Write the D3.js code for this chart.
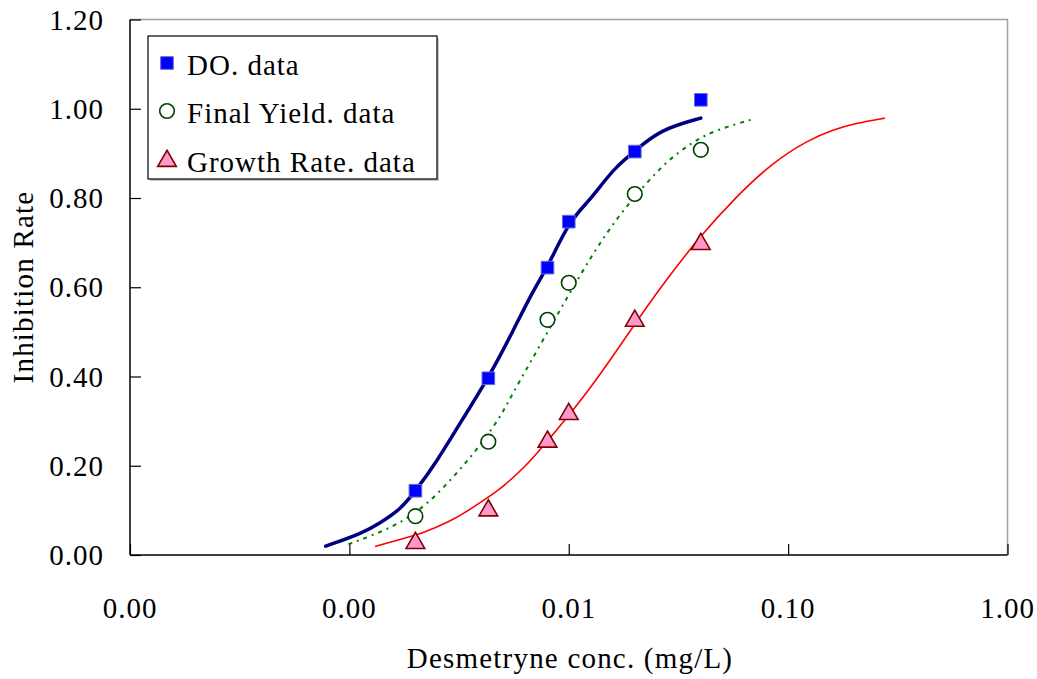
<!DOCTYPE html>
<html>
<head>
<meta charset="utf-8">
<script src="https://cdn.jsdelivr.net/npm/d3@7"></script>
<style>
	body { margin: 0; background: #fff; }
	svg { display: block; font-family: "Liberation Serif", "Times New Roman", serif; }
</style>
</head>
<body>
<svg id="chart" width="1037" height="679"></svg>
<script>
(function() {
	'use strict';

	// measured data points
	var concs = [0.002, 0.0043, 0.008, 0.01, 0.02, 0.04];
	var doData = [0.144, 0.396, 0.644, 0.747, 0.904, 1.02];
	var yieldData = [0.087, 0.254, 0.527, 0.61, 0.809, 0.908];
	var growthData = [0.029, 0.102, 0.256, 0.318, 0.527, 0.699];

	// fitted curves
	var doFitX = [0.00078, 0.00115, 0.00138, 0.0017, 0.002, 0.0025, 0.0032, 0.0043, 0.0056, 0.0069, 0.008, 0.01, 0.0125, 0.0139, 0.0165, 0.02, 0.026, 0.04];
	var doFitY = [0.02, 0.049, 0.072, 0.101, 0.143, 0.209, 0.296, 0.396, 0.504, 0.594, 0.644, 0.747, 0.796, 0.826, 0.871, 0.905, 0.953, 0.979];

	var yieldFitX = [0.00099, 0.00129, 0.0017, 0.00225, 0.003, 0.0038, 0.0049, 0.0054, 0.0075, 0.0098, 0.0129, 0.0168, 0.0219, 0.0279, 0.0369, 0.0472, 0.0706];
	var yieldFitY = [0.024, 0.045, 0.071, 0.112, 0.176, 0.235, 0.31, 0.352, 0.475, 0.576, 0.676, 0.759, 0.826, 0.882, 0.927, 0.953, 0.978];

	var growthFitX = [0.00131, 0.0017, 0.00217, 0.00287, 0.00342, 0.00422, 0.00503, 0.00632, 0.00739, 0.0098, 0.0134, 0.0194, 0.026, 0.0396, 0.0572, 0.0841, 0.1235, 0.1606, 0.205, 0.276];
	var growthFitY = [0.019, 0.035, 0.049, 0.075, 0.097, 0.127, 0.153, 0.198, 0.235, 0.307, 0.392, 0.508, 0.598, 0.714, 0.8, 0.878, 0.93, 0.953, 0.968, 0.979];

	var xTicks = [0.0001, 0.001, 0.01, 0.1, 1];
	var yTicks = [0, 0.2, 0.4, 0.6, 0.8, 1.0, 1.2];

	var legendItems = ['DO. data', 'Final Yield. data', 'Growth Rate. data'];

	var svg = d3.select('#chart');
	var left = 130, right = 1007.5, top = 19.5, bottom = 555;

	var x = d3.scaleLog().domain([0.0001, 1]).range([left, right]);
	var y = d3.scaleLinear().domain([0, 1.2]).range([bottom, top]);
	var fmt = d3.format('.2f');

	// plot frame (top/right grey)
	svg.append('path')
		.attr('d', 'M' + left + ',' + top + 'H' + right + 'V' + bottom)
		.attr('fill', 'none')
		.attr('stroke', '#a0a0a0')
		.attr('stroke-width', 1.5);

	// y axis
	var yAxis = svg.append('g')
		.attr('transform', 'translate(' + left + ',0)')
		.call(d3.axisRight(y).tickValues(yTicks).tickSize(11).tickFormat(''));
	yAxis.select('.domain').attr('stroke', '#000').attr('stroke-width', 1.5).attr('d', 'M0,' + top + 'V' + bottom);
	yAxis.selectAll('.tick line').attr('stroke', '#000').attr('stroke-width', 1.2);

	svg.append('g').selectAll('text')
		.data(yTicks)
		.enter().append('text')
		.attr('x', 104)
		.attr('y', function(d) { return y(d) + 10; })
		.attr('text-anchor', 'end')
		.attr('font-size', 29)
		.attr('letter-spacing', 1)
		.text(fmt);

	// x axis
	var xAxis = svg.append('g')
		.attr('transform', 'translate(0,' + bottom + ')')
		.call(d3.axisTop(x).tickValues(xTicks).tickSize(11).tickFormat(''));
	xAxis.select('.domain').attr('stroke', '#000').attr('stroke-width', 1.5).attr('d', 'M' + left + ',0H' + right);
	xAxis.selectAll('.tick line').attr('stroke', '#000').attr('stroke-width', 1.2);

	svg.append('g').selectAll('text')
		.data(xTicks)
		.enter().append('text')
		.attr('x', function(d) { return x(d); })
		.attr('y', 618)
		.attr('text-anchor', 'middle')
		.attr('font-size', 29)
		.attr('letter-spacing', 1)
		.text(fmt);

	// axis titles
	svg.append('text')
		.attr('x', 570)
		.attr('y', 668)
		.attr('text-anchor', 'middle')
		.attr('font-size', 29)
		.attr('letter-spacing', 1.2)
		.text('Desmetryne conc. (mg/L)');

	svg.append('text')
		.attr('transform', 'translate(33,287) rotate(-90)')
		.attr('text-anchor', 'middle')
		.attr('font-size', 29)
		.attr('letter-spacing', 1.2)
		.text('Inhibition Rate');

	// fitted lines
	var line = d3.line()
		.x(function(d) { return x(d[0]); })
		.y(function(d) { return y(d[1]); })
		.curve(d3.curveBasis);

	svg.append('path')
		.datum(d3.zip(growthFitX, growthFitY))
		.attr('d', line)
		.attr('fill', 'none')
		.attr('stroke', '#ff0000')
		.attr('stroke-width', 1.6);

	svg.append('path')
		.datum(d3.zip(yieldFitX, yieldFitY))
		.attr('d', line)
		.attr('fill', 'none')
		.attr('stroke', '#008000')
		.attr('stroke-width', 2)
		.attr('stroke-dasharray', '4,5,2,5');

	svg.append('path')
		.datum(d3.zip(doFitX, doFitY))
		.attr('d', line)
		.attr('fill', 'none')
		.attr('stroke', '#000080')
		.attr('stroke-width', 3.5)
		.attr('stroke-linecap', 'round');

	// markers
	var sq = d3.symbol().type(d3.symbolSquare).size(160);
	var tri = d3.symbol().type(d3.symbolTriangle).size(150);

	function drawSquare(g, px, py) {
		g.append('path').attr('d', sq).attr('transform', 'translate(' + px + ',' + py + ')')
			.attr('fill', '#0000ff').attr('stroke', '#6a6ad8').attr('stroke-width', 1);
	}
	function drawCircle(g, px, py) {
		g.append('circle').attr('cx', px).attr('cy', py).attr('r', 7.3)
			.attr('fill', '#fff').attr('stroke', '#004000').attr('stroke-width', 1.6);
	}
	function drawTri(g, px, py) {
		g.append('path').attr('d', tri).attr('transform', 'translate(' + px + ',' + (py + 1) + ')')
			.attr('fill', '#ff99cc').attr('stroke', '#800000').attr('stroke-width', 1.6);
	}

	var marks = svg.append('g');
	concs.forEach(function(c, i) {
		drawTri(marks, x(c), y(growthData[i]));
	});
	concs.forEach(function(c, i) {
		drawCircle(marks, x(c), y(yieldData[i]));
	});
	concs.forEach(function(c, i) {
		drawSquare(marks, x(c), y(doData[i]));
	});

	// legend
	var legend = svg.append('g');
	legend.append('rect')
		.attr('x', 150).attr('y', 38).attr('width', 289).attr('height', 143)
		.attr('fill', '#c8c8c8');
	legend.append('rect')
		.attr('x', 148).attr('y', 36).attr('width', 289).attr('height', 143)
		.attr('fill', '#fff').attr('stroke', '#000').attr('stroke-width', 1.2);

	var rowY = [63, 111, 160];
	drawSquare(legend, 167, rowY[0]);
	drawCircle(legend, 167, rowY[1]);
	drawTri(legend, 167, rowY[2]);

	legend.selectAll('text')
		.data(legendItems)
		.enter().append('text')
		.attr('x', 187)
		.attr('y', function(d, i) { return rowY[i] + 12; })
		.attr('font-size', 29)
		.attr('letter-spacing', 1)
		.text(function(d) { return d; });
})();
</script>
</body>
</html>
